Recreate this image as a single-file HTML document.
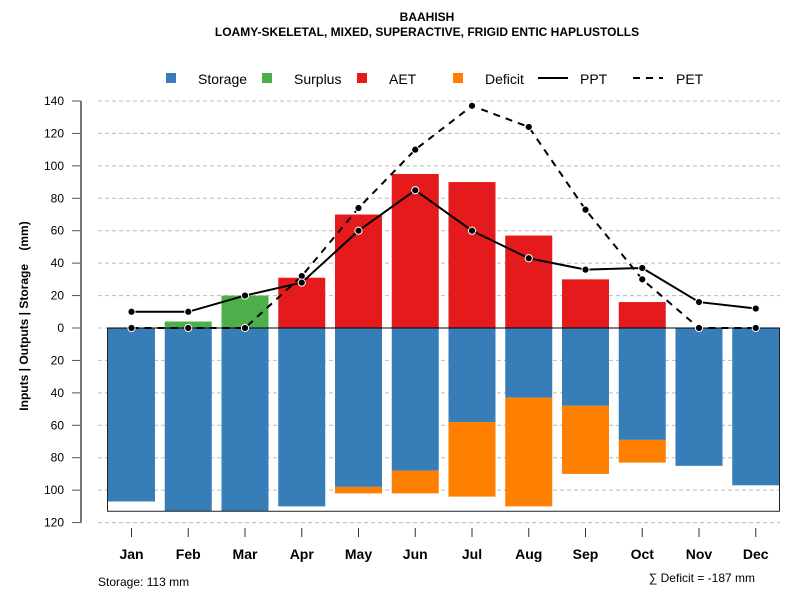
<!DOCTYPE html>
<html><head><meta charset="utf-8"><style>
body{margin:0;background:#fff}
svg{display:block;font-family:"Liberation Sans",sans-serif}
</style></head><body>
<svg id="c" width="800" height="600" viewBox="0 0 800 600">
<text x="427" y="21" text-anchor="middle" font-size="12" font-weight="bold">BAAHISH</text>
<text x="427" y="36" text-anchor="middle" font-size="12" font-weight="bold">LOAMY-SKELETAL, MIXED, SUPERACTIVE, FRIGID ENTIC HAPLUSTOLLS</text>
<g font-size="14">
<rect x="166" y="73" width="10" height="10" fill="#377eb8"/>
<text x="198" y="84">Storage</text>
<rect x="262" y="73" width="10" height="10" fill="#4daf4a"/>
<text x="294" y="84">Surplus</text>
<rect x="357" y="73" width="10" height="10" fill="#e41a1c"/>
<text x="389" y="84">AET</text>
<rect x="453" y="73" width="10" height="10" fill="#ff7f00"/>
<text x="485" y="84">Deficit</text>
<line x1="538" y1="78" x2="568" y2="78" stroke="#000" stroke-width="2"/>
<text x="580" y="84">PPT</text>
<line x1="633" y1="78" x2="663" y2="78" stroke="#000" stroke-width="2" stroke-dasharray="7,6"/>
<text x="676" y="84">PET</text>
</g>
<text transform="translate(28,316) rotate(-90)" text-anchor="middle" font-size="12" font-weight="bold" style="white-space:pre">Inputs | Outputs | Storage    (mm)</text>
<text x="98" y="586" font-size="12">Storage: 113 mm</text>
<text x="755" y="582" text-anchor="end" font-size="12">∑ Deficit = -187 mm</text>
<g id="plot"></g>
</svg>
<script>
const months=["Jan","Feb","Mar","Apr","May","Jun","Jul","Aug","Sep","Oct","Nov","Dec"];
const storage=[107,113,113,110,98,88,58,43,48,69,85,97];
const deficit=[0,0,0,0,4,14,46,67,42,14,0,0];
const surplus=[0,4,20,0,0,0,0,0,0,0,0,0];
const aet=[0,0,0,31,70,95,90,57,30,16,0,0];
const ppt=[10,10,20,28,60,85,60,43,36,37,16,12];
const pet=[0,0,0,32,74,110,137,124,73,30,0,0];
const yTicks=[140,120,100,80,60,40,20,0,20,40,60,80,100,120];
const yTickVals=[140,120,100,80,60,40,20,0,-20,-40,-60,-80,-100,-120];
const storageMax=113;

const NS="http://www.w3.org/2000/svg";
const g=document.getElementById('plot');
const y0=328,k=1.6214;
const Y=v=>y0-v*k;
const X=i=>131.5+i*56.75;
const bw=47;
function mk(t,a){const e=document.createElementNS(NS,t);for(const n in a)e.setAttribute(n,a[n]);g.appendChild(e);return e;}

yTickVals.forEach((v,i)=>{
  let e=mk('line',{x1:98,x2:780,y1:Y(v),y2:Y(v),stroke:'#bbb','stroke-dasharray':'4,3'});
  
  
  e=mk('line',{x1:72,x2:81,y1:Y(v),y2:Y(v),stroke:'#555'});
  
  
  e=mk('text',{x:64,y:Y(v)+4,'text-anchor':'end','font-size':12});
  e.textContent=yTicks[i];
  
  
});
let ax=mk('line',{x1:81,x2:81,y1:Y(140),y2:Y(-120),stroke:'#777','stroke-width':2});



months.forEach((m,i)=>{
  const x=X(i);
  let e;
  if(storage[i]>0){e=mk('rect',{x:x-bw/2,y:y0,width:bw,height:storage[i]*k,fill:'#377eb8'});
  
  }
  if(deficit[i]>0){e=mk('rect',{x:x-bw/2,y:Y(-storage[i]),width:bw,height:deficit[i]*k,fill:'#ff7f00'});
  
  }
  if(aet[i]>0){e=mk('rect',{x:x-bw/2,y:Y(aet[i]),width:bw,height:aet[i]*k,fill:'#e41a1c'});
  
  }
  if(surplus[i]>0){e=mk('rect',{x:x-bw/2,y:Y(aet[i]+surplus[i]),width:bw,height:surplus[i]*k,fill:'#4daf4a'});
  
  }
  e=mk('line',{x1:x,x2:x,y1:528,y2:537,stroke:'#333'});
  
  
  e=mk('text',{x:x,y:559,'text-anchor':'middle','font-size':14,'font-weight':'bold'});
  e.textContent=m;
  
  
});
let box=mk('path',{d:`M107.5 ${y0} V${Y(-storageMax)} H779.5 V${y0}`,fill:'none',stroke:'#222'});


let zl=mk('line',{x1:107,x2:780,y1:y0,y2:y0,stroke:'#000'});



function series(arr,dash,name){
  const p=mk('polyline',{points:arr.map((v,i)=>X(i)+','+Y(v)).join(' '),fill:'none',stroke:'#000','stroke-width':2,'stroke-dasharray':dash});
  
  
  arr.forEach((v,i)=>{
    const c=mk('circle',{cx:X(i),cy:Y(v),r:3.6,fill:'#000',stroke:'#fff','stroke-width':1});
    
    
  });
}
series(pet,'7,6','pet');
series(ppt,'none','ppt');
</script>
</body></html>
